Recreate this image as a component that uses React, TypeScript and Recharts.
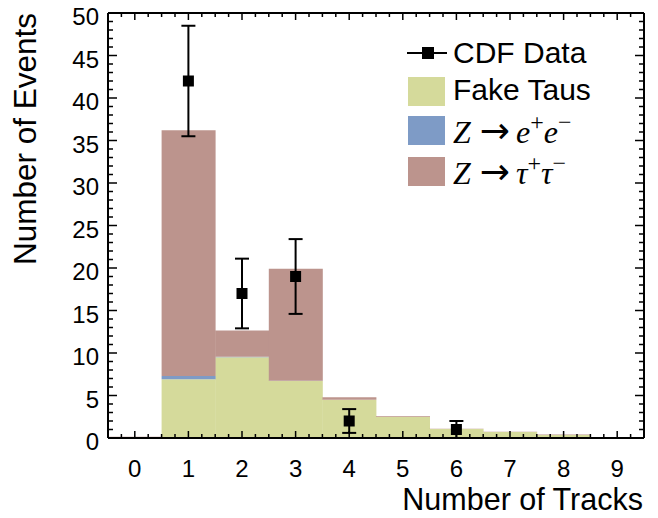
import React from 'react'
import { ComposedChart, Bar, Line, XAxis, YAxis, ErrorBar, Legend, ReferenceLine } from 'recharts'

// bins: number of tracks
const TRACKS = [0, 1, 2, 3, 4, 5, 6, 7, 8, 9]
// stacked backgrounds (events per bin)
const FAKE_TAUS = [0, 6.9, 9.5, 6.7, 4.5, 2.5, 1.05, 0.7, 0.35, 0.05]
const Z_EE = [0, 0.4, 0.05, 0.05, 0, 0, 0, 0, 0, 0]
const Z_TAUTAU = [0.15, 28.9, 3.1, 13.15, 0.3, 0.1, 0.05, 0.05, 0.05, 0.05]
// observed data with stat. errors
const CDF_DATA = [null, 42, 17, 19, 2, null, 1, null, null, null]
const CDF_ERR = [null, 6.5, 4.1, 4.4, 1.4, null, 1.0, null, null, null]

const Y_LABELS = [0, 5, 10, 15, 20, 25, 30, 35, 40, 45, 50]
const Y_MINOR = Array.from({ length: 51 }, (_, i) => i)
const X_MINOR = Array.from({ length: 41 }, (_, i) => -0.5 + i * 0.25)

const GREEN = '#d5da9b'
const BLUE = '#7e9bc6'
const BROWN = '#bc948d'
const FONT = "'Liberation Sans', Arial, Helvetica, sans-serif"
const MATH = "'Liberation Serif', 'Times New Roman', serif"
const ARROW = "'DejaVu Sans', sans-serif"

const data = TRACKS.map((t, i) => ({
  tracks: String(t),
  pos: t,
  fake: FAKE_TAUS[i],
  zee: Z_EE[i],
  ztt: Z_TAUTAU[i],
  cdf: CDF_DATA[i],
  err: CDF_ERR[i]
}))

const LeftLabel = ({ x, y, payload }: any) => (
  <text x={x - 9} y={y + 12} textAnchor="end" fontSize={24} fontFamily={FONT} fill="#000">
    {payload.value}
  </text>
)

const BottomLabel = ({ x, y, payload }: any) => (
  <text x={x} y={y + 39} textAnchor="middle" fontSize={24} fontFamily={FONT} fill="#000">
    {payload.value}
  </text>
)

// tick stubs on both ends of a reference line (frame ticks pointing inward)
const hStubs = (len: number) => (p: any) => {
  const a = Math.min(p.x1, p.x2)
  const b = Math.max(p.x1, p.x2)
  return (
    <g>
      <line x1={a} x2={a + len} y1={p.y1} y2={p.y1} stroke="#000" strokeWidth={1.5} />
      <line x1={b - len} x2={b} y1={p.y1} y2={p.y1} stroke="#000" strokeWidth={1.5} />
    </g>
  )
}
const vStubs = (len: number) => (p: any) => {
  const a = Math.min(p.y1, p.y2)
  const b = Math.max(p.y1, p.y2)
  return (
    <g>
      <line x1={p.x1} x2={p.x1} y1={a} y2={a + len} stroke="#000" strokeWidth={1.5} />
      <line x1={p.x1} x2={p.x1} y1={b - len} y2={b} stroke="#000" strokeWidth={1.5} />
    </g>
  )
}

const SquareDot = ({ cx, cy, value }: any) => {
  if (value == null || cy == null) return null
  return <rect x={cx - 5.5} y={cy - 5.5} width={11} height={11} fill="#000" />
}

const YTitle = () => (
  <text
    x={36}
    y={13}
    transform="rotate(-90 36 13)"
    textAnchor="end"
    fontSize={31.5}
    fontFamily={FONT}
    fill="#000"
  >
    Number of Events
  </text>
)

const XTitle = () => (
  <text x={643} y={510} textAnchor="end" fontSize={30.5} fontFamily={FONT} fill="#000">
    Number of Tracks
  </text>
)

const MathLabel = ({ y, sym }: { y: number; sym: string }) => (
  <text x={53} y={y} fontSize={32} fontFamily={MATH} fill="#000">
    <tspan fontStyle="italic">Z</tspan>
    <tspan dx={9} fontFamily={ARROW} fontSize={36}>→</tspan>
    <tspan dx={6} fontStyle="italic">{sym}</tspan>
    <tspan fontSize={24} dy={-13}>+</tspan>
    <tspan fontStyle="italic" dy={13}>{sym}</tspan>
    <tspan fontSize={24} dy={-13}>−</tspan>
  </text>
)

const LegendBox = () => (
  <svg width={240} height={165}>
    <line x1={7} x2={47} y1={23} y2={23} stroke="#000" strokeWidth={2} />
    <rect x={22} y={17} width={12} height={12} fill="#000" />
    <text x={53} y={33} fontSize={30} fontFamily={FONT}>CDF Data</text>

    <rect x={8} y={47} width={37} height={29} fill={GREEN} />
    <text x={53} y={70} fontSize={30} fontFamily={FONT}>Fake Taus</text>

    <rect x={8} y={86} width={37} height={29} fill={BLUE} />
    <MathLabel y={113} sym="e" />

    <rect x={8} y={127} width={37} height={29} fill={BROWN} />
    <MathLabel y={154} sym="τ" />
  </svg>
)

const App = () => (
  <div style={{ position: 'absolute', left: 0, top: 0, width: 658, height: 518, background: '#fff' }}>
    <ComposedChart
      width={658}
      height={518}
      data={data}
      margin={{ top: 13, right: 14, bottom: 0, left: 48 }}
      barCategoryGap={0}
      barGap={0}
    >
      <XAxis
        xAxisId="cat"
        dataKey="tracks"
        interval={0}
        tickSize={0}
        tickMargin={0}
        tickLine={false}
        axisLine={false}
        tick={<BottomLabel />}
        height={80}
        label={<XTitle />}
      />
      <XAxis xAxisId="x" dataKey="pos" type="number" domain={[-0.5, 9.5]} allowDataOverflow hide />
      <YAxis
        yAxisId="l"
        type="number"
        domain={[0, 50]}
        allowDataOverflow
        ticks={Y_LABELS}
        interval={0}
        tickSize={0}
        tickMargin={0}
        tickLine={false}
        axisLine={false}
        tick={<LeftLabel />}
        width={60}
        label={<YTitle />}
      />

      <Bar xAxisId="cat" yAxisId="l" dataKey="fake" stackId="bg" fill={GREEN} isAnimationActive={false} />
      <Bar xAxisId="cat" yAxisId="l" dataKey="zee" stackId="bg" fill={BLUE} isAnimationActive={false} />
      <Bar xAxisId="cat" yAxisId="l" dataKey="ztt" stackId="bg" fill={BROWN} isAnimationActive={false} />

      {/* frame ticks */}
      {Y_MINOR.map((v) => (
        <ReferenceLine
          key={`y${v}`}
          xAxisId="x"
          yAxisId="l"
          y={v}
          ifOverflow="visible"
          shape={hStubs(Y_LABELS.includes(v) ? 9 : 5)}
        />
      ))}
      {X_MINOR.map((v) => (
        <ReferenceLine
          key={`x${v}`}
          xAxisId="x"
          yAxisId="l"
          x={v}
          ifOverflow="visible"
          shape={vStubs(Number.isInteger(v) ? 7 : 4)}
        />
      ))}
      {/* frame */}
      <ReferenceLine xAxisId="x" yAxisId="l" y={0} ifOverflow="visible" stroke="#000" strokeWidth={2} />
      <ReferenceLine xAxisId="x" yAxisId="l" y={50} ifOverflow="visible" stroke="#000" strokeWidth={2} />
      <ReferenceLine xAxisId="x" yAxisId="l" x={-0.5} ifOverflow="visible" stroke="#000" strokeWidth={2} />
      <ReferenceLine xAxisId="x" yAxisId="l" x={9.5} ifOverflow="visible" stroke="#000" strokeWidth={2} />

      <Line
        xAxisId="x"
        yAxisId="l"
        dataKey="cdf"
        stroke="none"
        dot={<SquareDot />}
        activeDot={false}
        connectNulls={false}
        isAnimationActive={false}
      >
        <ErrorBar dataKey="err" direction="y" width={7} strokeWidth={2} stroke="#000" />
      </Line>

      <Legend
        layout="horizontal"
        verticalAlign="middle"
        align="center"
        content={<LegendBox />}
        wrapperStyle={{ left: 400, top: 30, width: 240, height: 165 }}
      />
    </ComposedChart>
  </div>
)

export default App
